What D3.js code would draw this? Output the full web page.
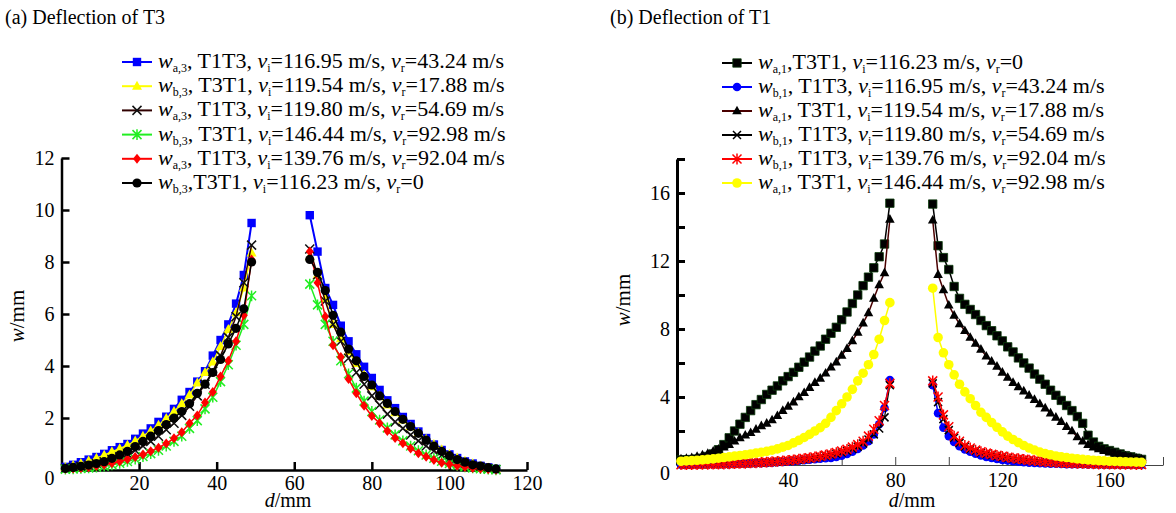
<!DOCTYPE html>
<html>
<head>
<meta charset="utf-8">
<style>
  body { margin: 0; background: #fff; }
  svg { display: block; }
  svg text { font-family: 'Liberation Serif', 'Tinos', 'Times New Roman', Times, 'DejaVu Serif', 'Noto Serif', serif; white-space: pre; fill: #000; }
  .tick text { font-size: 20px; }
</style>
</head>
<body>
<svg width="1176" height="513"></svg>
<script src="https://d3js.org/d3.v7.min.js"></script>
<script>
// ---------------- panel (a): deflection of T3 ----------------
const dA_left  = [1,3,5,7,9,11,13,15,17,19,21,23,25,27,29,31,33,35,37,39,41,43,45,47,49];
const dA_right = [64,66,68,70,72,74,76,78,80,82,84,86,88,90,92,94,96,98,100,102,104,106,108,110,112];

const a1_left  = [0.12,0.2,0.3,0.4,0.5,0.62,0.76,0.88,1.0,1.2,1.4,1.6,1.85,2.05,2.35,2.7,3.0,3.4,3.8,4.4,5.0,5.6,6.4,7.5,9.5];
const a1_right = [9.8,8.4,7.0,6.35,5.55,4.95,4.45,3.97,3.54,3.08,2.68,2.38,2.04,1.77,1.48,1.23,0.98,0.77,0.6,0.46,0.33,0.25,0.16,0.1,0.04];
const a2_left  = [0.1,0.17,0.25,0.35,0.45,0.57,0.7,0.82,0.95,1.12,1.3,1.5,1.72,1.98,2.25,2.55,2.88,3.35,3.75,4.15,4.75,5.4,6.05,7.0,8.35];
const a2_right = [8.2,7.5,6.6,5.6,5.05,4.55,4.1,3.65,3.2,2.85,2.5,2.2,1.92,1.66,1.42,1.18,0.98,0.78,0.6,0.46,0.34,0.24,0.15,0.08,0.03];
const a3_left  = [0.07,0.1,0.14,0.19,0.25,0.32,0.4,0.5,0.62,0.76,0.92,1.1,1.3,1.55,1.8,2.1,2.45,2.85,3.3,3.8,4.4,5.1,5.9,7.2,8.65];
const a3_right = [8.5,7.5,6.5,5.6,4.95,4.3,3.75,3.3,2.85,2.5,2.15,1.85,1.6,1.35,1.12,0.92,0.73,0.57,0.43,0.32,0.23,0.15,0.1,0.05,0.02];
const a4_left  = [0.03,0.04,0.06,0.08,0.11,0.15,0.2,0.26,0.33,0.42,0.52,0.63,0.76,0.92,1.1,1.3,1.6,1.9,2.35,2.8,3.4,4.05,4.8,5.6,6.7];
const a4_right = [7.15,6.35,5.6,4.95,4.2,3.7,3.15,2.65,2.25,1.92,1.62,1.35,1.12,0.92,0.74,0.58,0.45,0.34,0.25,0.18,0.12,0.08,0.05,0.03,0.01];
const a5_left  = [0.05,0.06,0.08,0.11,0.15,0.2,0.26,0.33,0.41,0.5,0.6,0.72,0.86,1.02,1.22,1.45,1.8,2.1,2.6,3.0,3.6,4.2,4.95,5.95,8.1];
const a5_right = [8.4,7.2,5.9,4.8,4.35,3.5,2.95,2.47,2.08,1.8,1.5,1.23,1.03,0.83,0.64,0.51,0.38,0.28,0.22,0.16,0.12,0.08,0.05,0.03,0.01];
const a6_left  = [0.06,0.1,0.14,0.19,0.25,0.32,0.45,0.58,0.72,0.9,1.1,1.3,1.52,1.75,2.0,2.25,2.55,2.95,3.3,3.75,4.25,4.85,5.45,6.2,8.0];
const a6_right = [8.1,7.6,6.9,5.95,5.3,4.65,4.2,3.6,3.27,2.85,2.56,2.25,1.95,1.67,1.41,1.15,0.92,0.72,0.55,0.4,0.3,0.2,0.15,0.09,0.04];

const legendA_sub  = ["a,3", "b,3", "a,3", "b,3", "a,3", "b,3"];
const legendA_case = ["T1T3", "T3T1", "T1T3", "T3T1", "T1T3", "T3T1"];
const legendA_vi   = ["116.95", "119.54", "119.80", "146.44", "139.76", "116.23"];
const legendA_vr   = ["43.24 m/s", "17.88 m/s", "54.69 m/s", "92.98 m/s", "92.04 m/s", "0"];

const ticksA_x = [20, 40, 60, 80, 100, 120];
const ticksA_y = [0, 2, 4, 6, 8, 10, 12];

// ---------------- panel (b): deflection of T1 ----------------
const dB_left  = [0,2,4,6,8,10,12,14,16,18,20,22,24,26,28,30,32,34,36,38,40,42,44,46,48,50,52,54,56,58,60,62,64,66,68,70,72,74,76,78];
const dB_right = [94,96,98,100,102,104,106,108,110,112,114,116,118,120,122,124,126,128,130,132,134,136,138,140,142,144,146,148,150,152,154,156,158,160,162,164,166,168,170,172];

const b1_left  = [0.3,0.3,0.32,0.35,0.4,0.5,0.65,0.9,1.2,1.6,2.0,2.4,2.8,3.2,3.55,3.85,4.15,4.4,4.65,4.95,5.2,5.45,5.75,6.05,6.35,6.7,7.0,7.4,7.75,8.1,8.55,9.0,9.5,10.0,10.55,11.05,11.6,12.25,13.0,15.4];
const b1_right = [15.35,12.9,12.2,11.5,10.5,9.8,9.45,9.15,8.85,8.5,8.2,7.9,7.6,7.3,6.95,6.65,6.3,6.0,5.7,5.35,5.05,4.75,4.4,4.1,3.8,3.5,3.2,2.85,2.45,1.75,1.35,1.1,0.95,0.85,0.75,0.65,0.55,0.48,0.4,0.33];
const b2_left  = [0.02,0.02,0.02,0.03,0.03,0.03,0.04,0.04,0.05,0.05,0.06,0.07,0.08,0.09,0.1,0.11,0.12,0.14,0.16,0.18,0.2,0.22,0.25,0.28,0.31,0.34,0.37,0.4,0.42,0.47,0.55,0.65,0.78,0.95,1.15,1.4,1.8,2.4,3.35,5.0];
const b2_right = [4.7,3.05,2.2,1.7,1.35,1.1,0.92,0.78,0.66,0.56,0.48,0.41,0.35,0.3,0.26,0.22,0.19,0.16,0.14,0.12,0.1,0.09,0.08,0.07,0.06,0.05,0.05,0.04,0.04,0.03,0.03,0.03,0.02,0.02,0.02,0.02,0.02,0.02,0.02,0.02];
const b3_left  = [0.35,0.38,0.42,0.5,0.58,0.68,0.8,0.92,1.05,1.2,1.4,1.6,1.75,1.9,2.1,2.3,2.45,2.65,2.9,3.2,3.45,3.7,4.0,4.25,4.55,4.85,5.1,5.4,5.75,6.05,6.45,6.85,7.3,7.8,8.35,8.95,9.8,10.6,11.3,14.45];
const b3_right = [14.4,11.2,10.3,9.4,8.8,8.3,7.9,7.5,7.15,6.8,6.4,6.1,5.8,5.45,5.15,4.85,4.6,4.35,4.1,3.85,3.6,3.35,3.05,2.8,2.55,2.25,2.0,1.65,1.4,1.2,1.05,0.95,0.85,0.75,0.68,0.6,0.53,0.47,0.4,0.35];
const b4_left  = [0.02,0.02,0.03,0.03,0.03,0.04,0.04,0.05,0.05,0.06,0.07,0.08,0.09,0.1,0.12,0.13,0.15,0.17,0.19,0.21,0.24,0.27,0.3,0.34,0.38,0.42,0.47,0.53,0.59,0.66,0.74,0.83,0.94,1.08,1.26,1.5,1.8,2.15,2.8,4.7];
const b4_right = [4.8,3.7,2.7,2.05,1.6,1.3,1.08,0.93,0.82,0.72,0.64,0.57,0.51,0.46,0.41,0.37,0.33,0.29,0.26,0.23,0.2,0.18,0.16,0.14,0.12,0.11,0.1,0.09,0.08,0.07,0.06,0.05,0.05,0.04,0.04,0.04,0.03,0.03,0.03,0.02];
const b5_left  = [0.02,0.03,0.03,0.03,0.04,0.04,0.05,0.05,0.06,0.07,0.08,0.09,0.1,0.12,0.13,0.15,0.17,0.19,0.21,0.24,0.27,0.3,0.34,0.38,0.42,0.47,0.52,0.58,0.65,0.73,0.82,0.92,1.05,1.2,1.4,1.7,2.1,2.6,3.5,4.8];
const b5_right = [4.95,4.0,2.95,2.25,1.7,1.4,1.15,1.0,0.88,0.78,0.7,0.63,0.57,0.51,0.46,0.41,0.37,0.33,0.29,0.26,0.23,0.2,0.18,0.16,0.14,0.12,0.11,0.1,0.09,0.08,0.07,0.06,0.06,0.05,0.05,0.04,0.04,0.04,0.03,0.03];
const b6_left  = [0.22,0.24,0.26,0.28,0.3,0.33,0.36,0.4,0.44,0.48,0.52,0.56,0.6,0.65,0.7,0.75,0.8,0.87,0.95,1.05,1.15,1.3,1.45,1.62,1.8,2.0,2.2,2.45,2.8,3.2,3.6,4.0,4.45,4.95,5.4,5.9,6.5,7.4,8.5,9.55];
const b6_right = [10.4,7.5,6.6,5.9,5.3,4.75,4.3,3.9,3.5,3.1,2.8,2.5,2.22,1.95,1.7,1.5,1.32,1.15,1.0,0.88,0.76,0.67,0.6,0.53,0.48,0.44,0.4,0.36,0.33,0.3,0.28,0.26,0.24,0.22,0.21,0.2,0.19,0.18,0.17,0.16];

const legendB_sub  = ["a,1", "b,1", "a,1", "b,1", "b,1", "a,1"];
const legendB_case = ["T3T1", "T1T3", "T3T1", "T1T3", "T1T3", "T3T1"];
const legendB_vi   = ["116.23", "116.95", "119.54", "119.80", "139.76", "146.44"];
const legendB_vr   = ["0", "43.24 m/s", "17.88 m/s", "54.69 m/s", "92.04 m/s", "92.98 m/s"];

const ticksB_x = [20, 40, 60, 80, 100, 120, 140, 160, 180];
const ticksB_y = [0, 2, 4, 6, 8, 10, 12, 14, 16, 18];

// ---------------- styles per series ----------------
const seriesA = [
  { left: a1_left, right: a1_right, line: "#0000ff", fill: "#0000ff", stroke: "none", marker: "square", size: 4.2, lw: 2 },
  { left: a2_left, right: a2_right, line: "#ffff00", fill: "#ffff00", stroke: "none", marker: "triangle", size: 5, lw: 1.5 },
  { left: a3_left, right: a3_right, line: "#300000", fill: "none", stroke: "#111", marker: "x", size: 4.5, lw: 1.5 },
  { left: a4_left, right: a4_right, line: "#22ee22", fill: "none", stroke: "#22ee22", marker: "asterisk", size: 4.5, lw: 1.5 },
  { left: a5_left, right: a5_right, line: "#ff0000", fill: "#ff0000", stroke: "none", marker: "diamond", size: 5, lw: 1.5 },
  { left: a6_left, right: a6_right, line: "#000000", fill: "#000000", stroke: "none", marker: "circle", size: 4.6, lw: 1.5 }
];
const seriesB = [
  { left: b1_left, right: b1_right, line: "#000000", fill: "#000000", stroke: "#0a3a0a", marker: "square", size: 4.2, lw: 1.5 },
  { left: b2_left, right: b2_right, line: "#0000ff", fill: "#0000ff", stroke: "none", marker: "circle", size: 4.3, lw: 1.5 },
  { left: b3_left, right: b3_right, line: "#4a0000", fill: "#000000", stroke: "none", marker: "triangle", size: 4.8, lw: 1.5 },
  { left: b4_left, right: b4_right, line: "#000000", fill: "none", stroke: "#000", marker: "x", size: 4, lw: 1.2 },
  { left: b5_left, right: b5_right, line: "#ff0000", fill: "none", stroke: "#ff0000", marker: "asterisk", size: 4.5, lw: 1.5 },
  { left: b6_left, right: b6_right, line: "#ffff00", fill: "#ffff00", stroke: "none", marker: "circle", size: 4.8, lw: 1.5 }
];

// marker shapes centred on 0,0
function markerPath(type, s) {
  if (type == "square") return `M${-s},${-s}h${2 * s}v${2 * s}h${-2 * s}Z`;
  if (type == "circle") return `M${s},0A${s},${s} 0 1,1 ${-s},0A${s},${s} 0 1,1 ${s},0Z`;
  if (type == "triangle") return `M0,${-s * 1.1}L${s},${s * 0.7}L${-s},${s * 0.7}Z`;
  if (type == "diamond") return `M0,${-s}L${s * 0.8},0L0,${s}L${-s * 0.8},0Z`;
  if (type == "x") return `M${-s},${-s}L${s},${s}M${-s},${s}L${s},${-s}`;
  // asterisk
  return `M${-s},${-s}L${s},${s}M${-s},${s}L${s},${-s}M0,${-s * 1.2}V${s * 1.2}`;
}

let svg = d3.select("svg");

function drawPanel(p) {
  let g = svg.append("g");

  // axes, ticks pointing inwards
  let xAxis = d3.axisBottom(p.x).tickValues(p.xticks).tickSizeInner(-p.tickLen).tickSizeOuter(0)
    .tickPadding(p.xPad).tickFormat(p.xfmt);
  let yAxis = d3.axisLeft(p.y).tickValues(p.yticks).tickSizeInner(-p.tickLen).tickSizeOuter(0)
    .tickPadding(p.yPad).tickFormat(p.yfmt);

  let gx = g.append("g").attr("transform", `translate(0,${p.y(0)})`).call(xAxis);
  gx.attr("font-family", null);
  gx.select(".domain").attr("stroke", p.xAxisColor).attr("stroke-width", p.xAxisWidth);
  gx.selectAll(".tick line").attr("stroke", p.xAxisColor).attr("stroke-width", p.xAxisWidth);

  let gy = g.append("g").attr("transform", `translate(${p.x.range()[0]},0)`).call(yAxis);
  gy.attr("font-family", null);
  gy.select(".domain").attr("stroke", "#000").attr("stroke-width", p.yAxisWidth);
  gy.selectAll(".tick line").attr("stroke", "#000").attr("stroke-width", p.yAxisWidth);
  // the origin label sits a little below the axis
  gy.selectAll(".tick text").filter(d => d == 0).attr("y", 8);

  // axis titles
  let yt = g.append("text").attr("transform", `translate(${p.ytitle[0]},${p.ytitle[1]}) rotate(-90)`)
    .attr("text-anchor", "middle").style("font-size", "21px");
  yt.append("tspan").style("font-style", "italic").text("w");
  yt.append("tspan").text("/mm");
  let xt = g.append("text").attr("x", p.xtitle[0]).attr("y", p.xtitle[1])
    .attr("text-anchor", "middle").style("font-size", "20px");
  xt.append("tspan").style("font-style", "italic").text("d");
  xt.append("tspan").text("/mm");

  // panel title
  g.append("text").attr("x", p.title[0]).attr("y", p.title[1]).style("font-size", "20px").text(p.titleText);

  let line = d3.line().x(d => p.x(d[0])).y(d => p.y(d[1]));

  p.series.forEach(s => {
    let branches = [d3.zip(p.dLeft, s.left), d3.zip(p.dRight, s.right)];
    let sg = g.append("g");
    branches.forEach(pts => {
      sg.append("path").attr("d", line(pts))
        .attr("fill", "none").attr("stroke", s.line).attr("stroke-width", s.lw);
      sg.selectAll(null).data(pts).join("path")
        .attr("transform", d => `translate(${p.x(d[0])},${p.y(d[1])})`)
        .attr("d", markerPath(s.marker, s.size))
        .attr("fill", s.fill)
        .attr("stroke", s.stroke)
        .attr("stroke-width", s.fill == "none" ? 1.5 : 0.8);
    });
  });

  // legend
  p.series.forEach((s, i) => {
    let yy = p.legY + i * p.legStep;
    g.append("line").attr("x1", p.legX).attr("x2", p.legX + 30).attr("y1", yy).attr("y2", yy)
      .attr("stroke", s.line).attr("stroke-width", 2);
    g.append("path").attr("transform", `translate(${p.legX + 15},${yy})`)
      .attr("d", markerPath(s.marker, s.size)).attr("fill", s.fill).attr("stroke", s.stroke)
      .attr("stroke-width", s.fill == "none" ? 1.5 : 0.8);

    let t = g.append("text").attr("x", p.legX + 36).attr("y", yy + 6).style("font-size", "22px");
    t.append("tspan").style("font-style", "italic").text("w");
    t.append("tspan").attr("dy", 4).style("font-size", "12px").text(p.legSub[i]);
    t.append("tspan").attr("dy", -4).text(p.legGap[i] + p.legCase[i] + ", ");
    t.append("tspan").style("font-style", "italic").text("v");
    t.append("tspan").attr("dy", 4).style("font-size", "12px").text("i");
    t.append("tspan").attr("dy", -4).text("=" + p.legVi[i] + " m/s, ");
    t.append("tspan").style("font-style", "italic").text("v");
    t.append("tspan").attr("dy", 4).style("font-size", "12px").text("r");
    t.append("tspan").attr("dy", -4).text("=" + p.legVr[i]);
  });
}

drawPanel({
  x: d3.scaleLinear().domain([0, 120]).range([61.5, 527]),
  y: d3.scaleLinear().domain([0, 12]).range([470, 158]),
  xticks: ticksA_x, yticks: ticksA_y,
  xfmt: d => d, yfmt: d => d,
  tickLen: 8, xPad: 6, yPad: 7,
  xAxisColor: "#000", xAxisWidth: 2.5, yAxisWidth: 2.5,
  ytitle: [24, 316], xtitle: [288, 507],
  title: [5, 24], titleText: "(a) Deflection of T3",
  dLeft: dA_left, dRight: dA_right, series: seriesA,
  legX: 122, legY: 62, legStep: 24.2,
  legSub: legendA_sub, legCase: legendA_case, legVi: legendA_vi, legVr: legendA_vr,
  legGap: [", ", ", ", ", ", ", ", ", ", ","]
});

drawPanel({
  x: d3.scaleLinear().domain([-1.5, 180]).range([677, 1163]),
  y: d3.scaleLinear().domain([0, 18]).range([465, 159]),
  xticks: ticksB_x, yticks: ticksB_y,
  xfmt: d => (d % 40 == 0 && d < 180 ? d : ""), yfmt: d => (d % 4 == 0 && d < 18 ? d : ""),
  tickLen: 8, xPad: 8, yPad: 7,
  xAxisColor: "#444", xAxisWidth: 1, yAxisWidth: 3,
  ytitle: [630, 300], xtitle: [912, 507],
  title: [610, 24], titleText: "(b) Deflection of T1",
  dLeft: dB_left, dRight: dB_right, series: seriesB,
  legX: 722, legY: 63, legStep: 24,
  legSub: legendB_sub, legCase: legendB_case, legVi: legendB_vi, legVr: legendB_vr,
  legGap: [",", ", ", ", ", ", ", ", ", ", "]
});
</script>
</body>
</html>
